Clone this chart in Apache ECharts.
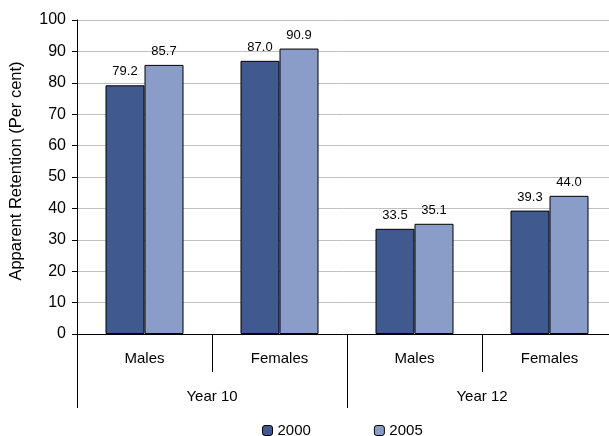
<!DOCTYPE html>
<html><head><meta charset="utf-8">
<script src="https://cdn.jsdelivr.net/npm/echarts@6/dist/echarts.min.js"></script>
<style>html,body{margin:0;padding:0;background:#fff}#c{width:609px;height:436px}</style>
</head><body><div id="c"></div>
<script>
const genders = ['Males', 'Females', 'Males', 'Females'];
const years = ['Year 10', 'Year 12'];
const seriesNames = ['2000', '2005'];
const values2000 = [79.2, 87.0, 33.5, 39.3];
const values2005 = [85.7, 90.9, 35.1, 44.0];
const yTicks = { min: 0, max: 100, interval: 10 };

const font = 'Arial, "Liberation Sans", sans-serif';
const chart = echarts.init(document.getElementById('c'), null, { renderer: 'canvas' });
const labelCfg = { show: true, position: 'top', distance: 7, fontSize: 13, color: '#000', fontFamily: font, formatter: p => p.value.toFixed(1) };
chart.setOption({
  animation: false,
  textStyle: { fontFamily: font },
  grid: { left: 77, width: 540, top: 20, bottom: 102, containLabel: false, outerBoundsMode: 'none' },
  legend: {
    data: seriesNames, left: 257, top: 418, itemWidth: 10, itemHeight: 10, itemGap: 63,
    textStyle: { fontSize: 15, color: '#000', fontFamily: font },
    itemStyle: { borderColor: '#000', borderWidth: 1 }
  },
  xAxis: [
    { type: 'category', data: genders, position: 'bottom',
      axisLine: { show: true, lineStyle: { color: '#000' } },
      axisTick: { show: true, length: 38, interval: 0, alignWithLabel: false, lineStyle: { color: '#000' } },
      axisLabel: { fontSize: 15, color: '#000', margin: 17, interval: 0, fontFamily: font } },
    { type: 'category', data: years, position: 'bottom', offset: 38,
      axisLine: { show: false },
      axisTick: { show: true, length: 36, interval: 0, lineStyle: { color: '#000' } },
      axisLabel: { fontSize: 15, color: '#000', margin: 17, fontFamily: font } }
  ],
  yAxis: {
    type: 'value', min: yTicks.min, max: yTicks.max, interval: yTicks.interval,
    name: 'Apparent Retention (Per cent)', nameLocation: 'middle', nameGap: 52, nameRotate: 90,
    nameTextStyle: { fontSize: 16.5, color: '#000', fontFamily: font, padding: [0, 0, 0, 12] },
    axisLine: { show: true, lineStyle: { color: '#000' } },
    axisTick: { show: true, length: 5, lineStyle: { color: '#000' } },
    axisLabel: { fontSize: 16, color: '#000', margin: 11, fontFamily: font },
    splitLine: { lineStyle: { color: '#C0C0C0' } }
  },
  series: [
    { name: seriesNames[0], type: 'bar', data: values2000, barWidth: 39, barGap: '0%',
      itemStyle: { color: '#405A8F', borderColor: '#000', borderWidth: 1 }, label: labelCfg },
    { name: seriesNames[1], type: 'bar', data: values2005, barWidth: 39, barGap: '0%',
      itemStyle: { color: '#8A9DC8', borderColor: '#000', borderWidth: 1 }, label: labelCfg }
  ]
});
</script></body></html>
